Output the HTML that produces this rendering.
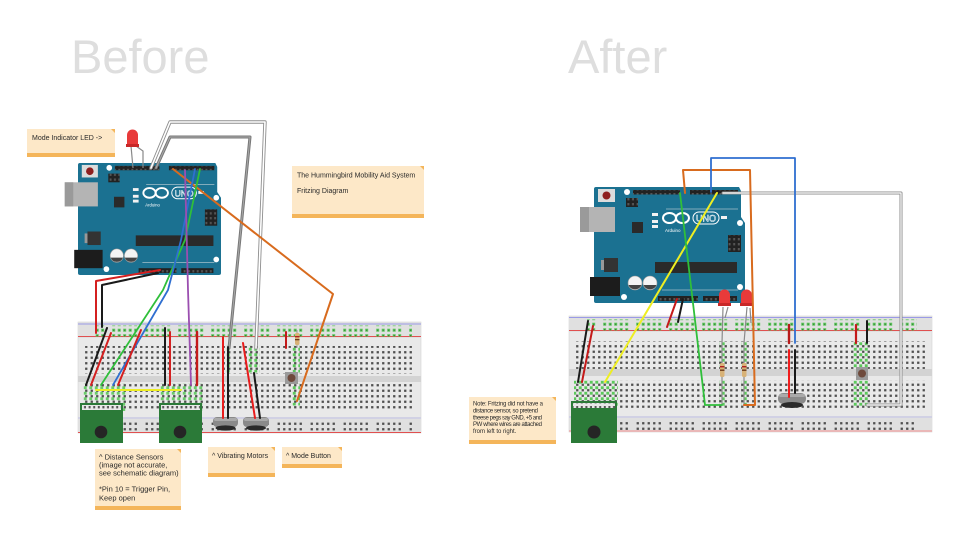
<!DOCTYPE html>
<html><head><meta charset="utf-8"><style>
html,body{margin:0;padding:0;background:#fff;}
svg{display:block;}
text{font-family:"Liberation Sans",sans-serif;}
</style></head><body>
<svg width="960" height="540" viewBox="0 0 960 540" xmlns="http://www.w3.org/2000/svg">
<defs>
<pattern id="h" x="0" y="0" width="5.5" height="5.5" patternUnits="userSpaceOnUse">
<rect x="1.6" y="1.6" width="2.3" height="2.3" fill="#505050"/>
</pattern>
<pattern id="r" x="0" y="0" width="33" height="5.5" patternUnits="userSpaceOnUse">
<rect x="1.6" y="1.6" width="2.3" height="2.3" fill="#505050"/>
<rect x="7.1" y="1.6" width="2.3" height="2.3" fill="#505050"/>
<rect x="12.6" y="1.6" width="2.3" height="2.3" fill="#505050"/>
<rect x="18.1" y="1.6" width="2.3" height="2.3" fill="#505050"/>
<rect x="23.6" y="1.6" width="2.3" height="2.3" fill="#505050"/>
</pattern>
<pattern id="rg" x="0" y="0" width="33" height="5.5" patternUnits="userSpaceOnUse">
<rect x="1.2" y="1.2" width="3" height="3" fill="#5cc85c"/>
<rect x="6.7" y="1.2" width="3" height="3" fill="#5cc85c"/>
<rect x="12.2" y="1.2" width="3" height="3" fill="#5cc85c"/>
<rect x="17.7" y="1.2" width="3" height="3" fill="#5cc85c"/>
<rect x="23.2" y="1.2" width="3" height="3" fill="#5cc85c"/>
<rect x="2.2" y="2.2" width="1" height="1" fill="#2a5a2a"/>
<rect x="7.7" y="2.2" width="1" height="1" fill="#2a5a2a"/>
<rect x="13.2" y="2.2" width="1" height="1" fill="#2a5a2a"/>
<rect x="18.7" y="2.2" width="1" height="1" fill="#2a5a2a"/>
<rect x="24.2" y="2.2" width="1" height="1" fill="#2a5a2a"/>
</pattern>
<pattern id="g" x="0" y="0" width="5.5" height="5.5" patternUnits="userSpaceOnUse">
<rect x="1.3" y="1.3" width="2.9" height="2.9" fill="#5cc85c"/>
</pattern>
<pattern id="hd" x="0" y="0" width="4.6" height="5" patternUnits="userSpaceOnUse">
<rect x="1.2" y="1" width="2" height="2.4" fill="#555"/>
</pattern>

<g id="ard">
<path d="M2,0 H145 L147,4 V30 L151,36 V114 Q151,116 149,116 H2 Q0,116 0,114 V2 Q0,0 2,0 Z" fill="#1b7191"/>
<rect x="-14" y="20" width="35" height="25" fill="#b4b4b4"/>
<rect x="-14" y="20" width="9" height="25" fill="#9a9a9a"/>
<rect x="-4" y="90" width="30" height="19" fill="#1c1c1c"/>
<rect x="4" y="2" width="17" height="13" fill="#dcdcdc"/>
<circle cx="12.5" cy="8.5" r="4" fill="#8e1f1f"/>
<circle cx="33" cy="5" r="3" fill="#fff"/>
<circle cx="146" cy="36" r="3" fill="#fff"/>
<circle cx="146" cy="100" r="3" fill="#fff"/>
<circle cx="30" cy="110" r="3" fill="#fff"/>
<rect x="32" y="11" width="12" height="9" fill="#222"/>
<rect x="32" y="11" width="12" height="9" fill="url(#hd)"/>
<rect x="39" y="3" width="47" height="4.5" fill="#222"/>
<rect x="39" y="3" width="47" height="4.5" fill="url(#hd)"/>
<rect x="96" y="3" width="48" height="4.5" fill="#222"/>
<rect x="96" y="3" width="48" height="4.5" fill="url(#hd)"/>
<rect x="38" y="35" width="11" height="11" fill="#2a2a2a"/>
<rect x="58" y="26" width="6" height="3" fill="#f2f2f2"/>
<rect x="58" y="33" width="6" height="3" fill="#f2f2f2"/>
<rect x="58" y="38" width="6" height="3" fill="#f2f2f2"/>
<rect x="127" y="29" width="6" height="3" fill="#f2f2f2"/>
<line x1="72" y1="22" x2="144" y2="22" stroke="#e8e8e8" stroke-width="0.6"/>
<line x1="68" y1="103" x2="144" y2="103" stroke="#e8e8e8" stroke-width="0.6"/>
<ellipse cx="75.5" cy="31" rx="6.5" ry="5" fill="none" stroke="#fff" stroke-width="2"/>
<ellipse cx="88.5" cy="31" rx="6.5" ry="5" fill="none" stroke="#fff" stroke-width="2"/>
<rect x="99" y="25" width="26" height="12" rx="6" fill="none" stroke="#fff" stroke-width="1"/>
<text x="112" y="34.5" font-size="9" fill="none" stroke="#fff" stroke-width="0.5" text-anchor="middle">UNO</text>
<text x="71" y="45" font-size="4.5" fill="#fff">Arduino</text>
<rect x="134" y="48" width="13" height="17" fill="#222"/>
<rect x="134" y="48" width="13" height="17" fill="url(#hd)"/>
<rect x="7" y="73" width="5" height="10" fill="#999"/>
<rect x="10" y="71" width="14" height="14" fill="#333"/>
<circle cx="41" cy="96" r="7" fill="#f4f4f4" stroke="#999" stroke-width="0.6"/>
<path d="M34.5,98 A7,7 0 0 0 47.5,98 Z" fill="#444"/>
<circle cx="56" cy="96" r="7" fill="#f4f4f4" stroke="#999" stroke-width="0.6"/>
<path d="M49.5,98 A7,7 0 0 0 62.5,98 Z" fill="#444"/>
<rect x="61" y="75" width="82" height="11" fill="#2a2a2a"/>
<rect x="64" y="109" width="40" height="5" fill="#222"/>
<rect x="64" y="109" width="40" height="5" fill="url(#hd)"/>
<rect x="109" y="109" width="34" height="5" fill="#222"/>
<rect x="109" y="109" width="34" height="5" fill="url(#hd)"/>
</g>
</defs>

<rect width="960" height="540" fill="#fff"/>

<!-- Titles -->
<text x="71" y="73" font-size="47" fill="#dedede">Before</text>
<text x="568" y="73" font-size="47" fill="#dedede">After</text>

<!-- LEFT BREADBOARD -->
<g transform="translate(78,322)">
<rect x="0" y="0" width="343" height="111" fill="#e9e9e9" stroke="#d4d4d4" stroke-width="0.6"/>
<rect x="0" y="0" width="343" height="16" fill="#e0e0e0"/>
<rect x="0" y="95" width="343" height="16" fill="#e0e0e0"/>
<line x1="0" y1="2" x2="343" y2="2" stroke="#9a9ae6" stroke-width="1"/>
<line x1="0" y1="14.5" x2="343" y2="14.5" stroke="#e05050" stroke-width="1"/>
<rect x="16" y="3.5" width="318" height="11" fill="url(#rg)"/>
<rect x="6" y="24" width="330" height="27.5" fill="url(#h)"/>
<rect x="0" y="54" width="343" height="6" fill="#d3d3d3"/>
<rect x="6" y="62" width="330" height="27.5" fill="url(#h)"/>
<line x1="0" y1="96" x2="343" y2="96" stroke="#b8b8ec" stroke-width="0.8"/>
<rect x="16" y="98" width="318" height="11" fill="url(#r)"/>
<line x1="0" y1="110.5" x2="343" y2="110.5" stroke="#e05050" stroke-width="1"/>
</g>
<!-- left green hole highlights -->
<rect x="83" y="383.5" width="44" height="27.5" fill="url(#g)" opacity="0.9"/>
<rect x="160" y="383.5" width="44" height="27.5" fill="url(#g)" opacity="0.9"/>
<rect x="226" y="345" width="6" height="27.5" fill="url(#g)"/>
<rect x="248" y="345" width="12" height="27.5" fill="url(#g)"/>
<rect x="292" y="345" width="8" height="27.5" fill="url(#g)"/>
<rect x="292" y="383.5" width="8" height="22" fill="url(#g)"/>

<!-- RIGHT BREADBOARD -->
<g transform="translate(569,316)">
<rect x="0" y="0" width="363" height="116" fill="#e9e9e9" stroke="#d4d4d4" stroke-width="0.6"/>
<rect x="0" y="0" width="363" height="16" fill="#e0e0e0"/>
<rect x="0" y="100" width="363" height="16" fill="#e0e0e0"/>
<line x1="0" y1="1.5" x2="363" y2="1.5" stroke="#9a9ae6" stroke-width="1"/>
<line x1="0" y1="14.5" x2="363" y2="14.5" stroke="#e05050" stroke-width="1"/>
<rect x="18" y="3.4" width="330" height="11" fill="url(#rg)"/>
<rect x="6" y="25.4" width="350" height="27.5" fill="url(#h)"/>
<rect x="0" y="53" width="363" height="7" fill="#d3d3d3"/>
<rect x="6" y="64.4" width="350" height="27.5" fill="url(#h)"/>
<line x1="0" y1="101" x2="363" y2="101" stroke="#b8b8ec" stroke-width="0.8"/>
<rect x="18" y="103.4" width="330" height="11" fill="url(#r)"/>
<line x1="0" y1="115" x2="363" y2="115" stroke="#f0a0a0" stroke-width="1.2"/>
</g>
<rect x="574" y="380" width="44" height="27.5" fill="url(#g)"/>
<rect x="719" y="341" width="6" height="27.5" fill="url(#g)"/>
<rect x="719" y="380" width="6" height="27.5" fill="url(#g)"/>
<rect x="741" y="341" width="6" height="27.5" fill="url(#g)"/>
<rect x="741" y="380" width="6" height="27.5" fill="url(#g)"/>
<rect x="853" y="341" width="17" height="27.5" fill="url(#g)"/>
<rect x="853" y="380" width="17" height="27.5" fill="url(#g)"/>

<!-- ARDUINOS -->
<use href="#ard" transform="translate(78,163) scale(0.947,0.965)"/>
<use href="#ard" transform="translate(594,187)"/>

<!-- LEFT COMPONENTS -->
<polyline points="131,146 133,168" fill="none" stroke="#888" stroke-width="1.2"/>
<polyline points="136,146 143,151 143,168" fill="none" stroke="#888" stroke-width="1.2"/>
<path d="M127,146 V135 A5.5,5.5 0 0 1 138,135 V146 Z" fill="#e83a3a"/>
<rect x="126" y="144" width="13" height="3" fill="#c82828"/>
<g>
<rect x="80" y="403" width="43" height="40" fill="#2b7a38"/>
<rect x="82" y="405" width="39" height="5" fill="#e8e8e8"/>
<rect x="82" y="405" width="39" height="5" fill="url(#hd)"/>
<circle cx="101" cy="432" r="6.3" fill="#252525"/>
<rect x="159" y="403" width="43" height="40" fill="#2b7a38"/>
<rect x="161" y="405" width="39" height="5" fill="#e8e8e8"/>
<rect x="161" y="405" width="39" height="5" fill="url(#hd)"/>
<circle cx="180" cy="432" r="6.3" fill="#252525"/>
</g>
<rect x="213" y="417" width="25" height="10" rx="4" fill="#8a8a8a"/>
<rect x="214" y="418" width="23" height="3" rx="1.5" fill="#aaa"/>
<ellipse cx="225.5" cy="428" rx="10" ry="2.6" fill="#2a2a2a"/>
<rect x="243" y="417" width="26" height="10" rx="4" fill="#8a8a8a"/>
<rect x="244" y="418" width="24" height="3" rx="1.5" fill="#aaa"/>
<ellipse cx="256" cy="428" rx="10" ry="2.6" fill="#2a2a2a"/>
<rect x="285" y="372" width="13" height="12" fill="#9a9a9a"/>
<circle cx="291.5" cy="378" r="4" fill="#6e4a3c"/>
<line x1="297" y1="330" x2="297" y2="348" stroke="#999" stroke-width="1"/>
<rect x="295" y="333" width="4.5" height="12" rx="1.5" fill="#d8b277"/>
<rect x="295" y="336" width="4.5" height="1.3" fill="#b02020"/>
<rect x="295" y="339" width="4.5" height="1.3" fill="#6b3a1a"/>

<!-- LEFT WIRES -->
<g fill="none" stroke-linejoin="round" stroke-linecap="round">
<polyline points="151,168 170,122 265,122 256,348" stroke="#8e8e8e" stroke-width="3.4"/>
<polyline points="151,168 170,122 265,122 256,348" stroke="#fff" stroke-width="1.6"/>
<polyline points="156,168 170,137 250,137 229,348" stroke="#777" stroke-width="3"/>
<polyline points="156,168 170,137 250,137 229,348" stroke="#a8a8a8" stroke-width="1"/>
<polyline points="173,169 333,294 297,401" stroke="#d86b1e" stroke-width="2"/>
<polyline points="200,169 185,240 163,290 101,385" stroke="#2fbf3a" stroke-width="1.8"/>
<polyline points="195,169 181,240 168,290 113,385" stroke="#2f6fd0" stroke-width="1.8"/>
<polyline points="185,170 188,290 191,385" stroke="#9b4fb0" stroke-width="1.8"/>
<polyline points="160,270 96,281 96,333" stroke="#d42020" stroke-width="2"/>
<polyline points="158,273 102,285 102,327" stroke="#1a1a1a" stroke-width="2"/>
<line x1="107" y1="328" x2="86" y2="385" stroke="#1a1a1a" stroke-width="2"/>
<line x1="111" y1="333" x2="91" y2="385" stroke="#d42020" stroke-width="2"/>
<line x1="141" y1="330" x2="118" y2="385" stroke="#d42020" stroke-width="2"/>
<line x1="165" y1="328" x2="165" y2="385" stroke="#1a1a1a" stroke-width="2"/>
<line x1="170" y1="332" x2="170" y2="385" stroke="#d42020" stroke-width="2"/>
<line x1="197" y1="332" x2="197" y2="385" stroke="#c41a1a" stroke-width="2.4"/>
<line x1="96" y1="390" x2="181" y2="390" stroke="#eeee22" stroke-width="2"/>
<line x1="223" y1="337" x2="223" y2="418" stroke="#e81c1c" stroke-width="2"/>
<line x1="228" y1="347" x2="228" y2="418" stroke="#1a1a1a" stroke-width="2"/>
<line x1="243" y1="343" x2="255" y2="418" stroke="#e81c1c" stroke-width="2"/>
<line x1="254" y1="373" x2="260" y2="418" stroke="#1a1a1a" stroke-width="2"/>
<line x1="286" y1="332" x2="286" y2="348" stroke="#c41a1a" stroke-width="2"/>
</g>

<!-- RIGHT COMPONENTS -->
<g fill="none" stroke="#8a8a8a" stroke-width="1.2">
<polyline points="723,307 722,343 722,405"/>
<polyline points="728,307 725,318"/>
<polyline points="747,307 744,343 744,405"/>
<polyline points="750,308 751,323"/>
</g>
<rect x="720" y="363" width="4.5" height="14" rx="1.5" fill="#d8b277"/>
<rect x="720" y="366" width="4.5" height="1.4" fill="#b02020"/>
<rect x="720" y="369.5" width="4.5" height="1.4" fill="#6b3a1a"/>
<rect x="742" y="363" width="4.5" height="14" rx="1.5" fill="#d8b277"/>
<rect x="742" y="366" width="4.5" height="1.4" fill="#b02020"/>
<rect x="742" y="369.5" width="4.5" height="1.4" fill="#6b3a1a"/>
<path d="M719,305 V295 A5.5,5.5 0 0 1 730,295 V305 Z" fill="#e83a3a"/>
<rect x="718" y="303" width="13" height="3" fill="#c82828"/>
<path d="M741,305 V295 A5.5,5.5 0 0 1 752,295 V305 Z" fill="#e83a3a"/>
<rect x="740" y="303" width="13" height="3" fill="#c82828"/>
<rect x="571" y="401" width="46" height="42" fill="#2b7a38"/>
<rect x="573" y="403" width="42" height="5" fill="#e8e8e8"/>
<rect x="573" y="403" width="42" height="5" fill="url(#hd)"/>
<circle cx="594" cy="432" r="6.5" fill="#252525"/>
<rect x="778" y="393" width="28" height="11" rx="5" fill="#8a8a8a"/>
<rect x="779" y="394" width="26" height="3" rx="1.5" fill="#aaa"/>
<ellipse cx="792" cy="405" rx="11" ry="3" fill="#2a2a2a"/>
<rect x="856" y="367" width="12" height="13" fill="#9a9a9a"/>
<circle cx="862" cy="373.5" r="4" fill="#6e4a3c"/>

<!-- RIGHT WIRES -->
<g fill="none" stroke-linejoin="round" stroke-linecap="round">
<polyline points="723,193 901,193 901,405 867,405" stroke="#8e8e8e" stroke-width="3"/>
<polyline points="723,193 901,193 901,405 867,405" stroke="#fff" stroke-width="1.2"/>
<polyline points="685,193 683,170 750,170 755,405 744,405" stroke="#d86b1e" stroke-width="2"/>
<polyline points="711,192 711,158 795,158 795,343" stroke="#2f6fd0" stroke-width="1.8"/>
<line x1="717" y1="193" x2="605" y2="382" stroke="#eeee22" stroke-width="2"/>
<polyline points="680,193 705,405 722,405" stroke="#2fbf3a" stroke-width="1.8"/>
<line x1="677" y1="299" x2="667" y2="327" stroke="#c41a1a" stroke-width="2"/>
<line x1="683" y1="299" x2="678" y2="322" stroke="#1a1a1a" stroke-width="2"/>
<line x1="588" y1="321" x2="578" y2="382" stroke="#1a1a1a" stroke-width="2"/>
<line x1="593" y1="326" x2="582" y2="382" stroke="#c41a1a" stroke-width="2"/>
<line x1="789" y1="325" x2="789" y2="343" stroke="#b81a1a" stroke-width="2.4"/>
<line x1="789" y1="350" x2="789" y2="397" stroke="#f01c1c" stroke-width="2"/>
<line x1="795" y1="350" x2="795" y2="393" stroke="#1a1a1a" stroke-width="2"/>
<line x1="856" y1="325" x2="856" y2="343" stroke="#c41a1a" stroke-width="2.2"/>
<line x1="867" y1="321" x2="867" y2="343" stroke="#1a1a1a" stroke-width="2"/>
</g>

<!-- NOTES -->
<g font-size="7" fill="#2a2a2a">
<rect x="27" y="129" width="88" height="28" fill="#fde8c8"/>
<rect x="27" y="153" width="88" height="4" fill="#f4b55a"/>
<path d="M111,129 H115 V133 Z" fill="#f4b55a"/>
<text x="32" y="140">Mode Indicator LED -&gt;</text>

<rect x="292" y="166" width="132" height="52" fill="#fde8c8"/>
<rect x="292" y="214" width="132" height="4" fill="#f4b55a"/>
<path d="M420,166 H424 V170 Z" fill="#f4b55a"/>
<text x="297" y="177.5">The Hummingbird Mobility Aid System</text>
<text x="297" y="193">Fritzing Diagram</text>

<rect x="95" y="449" width="86" height="61" fill="#fde8c8"/>
<rect x="95" y="506" width="86" height="4" fill="#f4b55a"/>
<path d="M177,449 H181 V453 Z" fill="#f4b55a"/>
<text x="99" y="459.5" font-size="7.5">^ Distance Sensors</text>
<text x="99" y="467.5" font-size="7.5">(image not accurate,</text>
<text x="99" y="475.5" font-size="7.5">see schematic diagram)</text>
<text x="99" y="491.5" font-size="7.5">*Pin 10 = Trigger Pin,</text>
<text x="99" y="500.5" font-size="7.5">Keep open</text>

<rect x="208" y="447" width="67" height="30" fill="#fde8c8"/>
<rect x="208" y="473" width="67" height="4" fill="#f4b55a"/>
<path d="M271,447 H275 V451 Z" fill="#f4b55a"/>
<text x="212" y="458">^ Vibrating Motors</text>

<rect x="282" y="447" width="60" height="21" fill="#fde8c8"/>
<rect x="282" y="464" width="60" height="4" fill="#f4b55a"/>
<path d="M338,447 H342 V451 Z" fill="#f4b55a"/>
<text x="286" y="458">^ Mode Button</text>

<rect x="469" y="397" width="87" height="47" fill="#fde8c8"/>
<rect x="469" y="440" width="87" height="4" fill="#f4b55a"/>
<path d="M552,397 H556 V401 Z" fill="#f4b55a"/>
<g font-size="6">
<text x="473" y="405.5" textLength="70">Note: Fritzing did not have a</text>
<text x="473" y="412.5" textLength="65">distance sensor, so pretend</text>
<text x="473" y="419.5" textLength="69">theese pegs say GND, +5 and</text>
<text x="473" y="426" textLength="69">PW where wires are attached</text>
<text x="473" y="433">from left to right.</text>
</g>
</g>
</svg>
</body></html>
